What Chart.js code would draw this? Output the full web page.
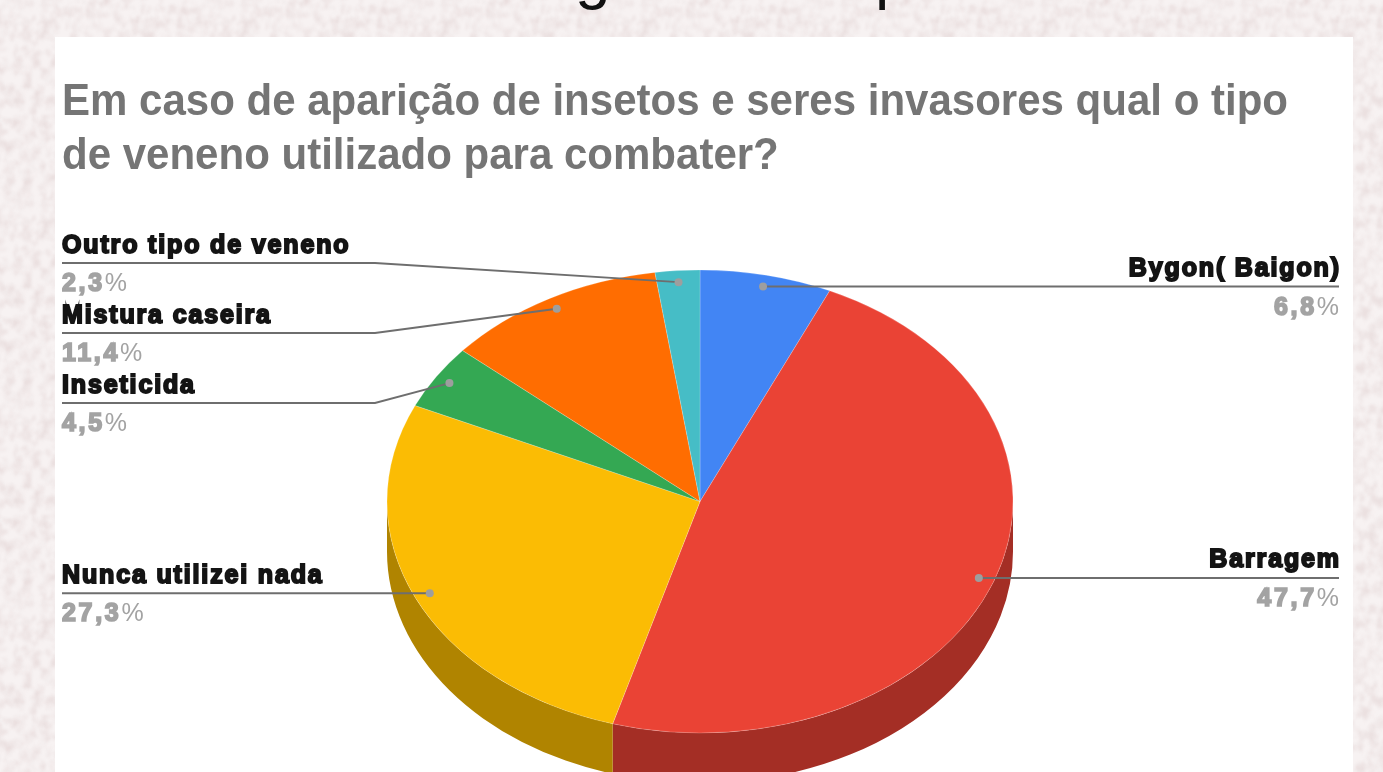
<!DOCTYPE html>
<html lang="pt">
<head>
<meta charset="utf-8">
<title>Veneno utilizado</title>
<script src="https://cdn.jsdelivr.net/npm/chart.js@4"></script>
<style>
html,body{margin:0;padding:0;width:1383px;height:772px;overflow:hidden;background:#f7f2f2}
#tex{position:absolute;left:-4px;top:-4px;width:1391px;height:780px;filter:blur(1.2px);
background-image:url("data:image/svg+xml;utf8,<svg xmlns='http://www.w3.org/2000/svg' width='200' height='200'><filter id='n' x='0' y='0' width='100%25' height='100%25'><feTurbulence type='fractalNoise' baseFrequency='0.11 0.09' numOctaves='3' seed='9' stitchTiles='stitch'/><feColorMatrix values='0 0 0 0 0.72  0 0 0 0 0.6  0 0 0 0 0.6  0.8 0.8 0 0 -0.68'/></filter><rect width='200' height='200' filter='url(%23n)'/></svg>");}
#card{position:absolute;left:55px;top:37px;width:1298px;height:735px;background:#fff}
.frag{position:absolute;font:64px "Liberation Sans",sans-serif;color:#111;line-height:64px;top:-57px}
canvas{position:absolute;left:0;top:0;filter:blur(0.75px)}
</style>
</head>
<body>
<div id="tex"></div>
<div class="frag" style="left:575px">g</div>
<div class="frag" style="left:875px">p</div>
<div id="card"></div>
<canvas id="c" width="1383" height="772"></canvas>
<script>
const titleLines = ["Em caso de aparição de insetos e seres invasores qual o tipo", "de veneno utilizado para combater?"];
const categories = ["Bygon( Baigon)", "Barragem", "Nunca utilizei nada", "Inseticida", "Mistura caseira", "Outro tipo de veneno"];
const shares = [6.8, 47.7, 27.3, 4.5, 11.4, 2.3];
const shareLabels = ["6,8", "47,7", "27,3", "4,5", "11,4", "2,3"];
const topColors = ["#4285f4", "#ea4335", "#fbbc04", "#34a853", "#ff6d01", "#46bdc6"];
const sideColors = ["#2e5dab", "#a42e25", "#b08400", "#24753a", "#b34c01", "#31848b"];

// Layout of the tilted pie and its callouts (screen pixels)
const PIE = {cx: 700, cy: 501.5, rx: 313, ry: 231.5, depth: 50, dotAt: 0.95};
const CALLOUTS = [
  {side: "right", lineY: null},
  {side: "right", lineY: null},
  {side: "left",  lineY: null},
  {side: "left",  lineY: 403, elbow: 375},
  {side: "left",  lineY: 333, elbow: 375},
  {side: "left",  lineY: 263, elbow: 375}
];
const LEFT_X = 62, RIGHT_X = 1339, TITLE_WIDTH = 1226;
const NAME_SPACING = 1.85, NUM_SPACING = 2.7;

function project(el, frac, a) {
  return {x: PIE.cx + Math.cos(a) * PIE.rx * frac, y: PIE.cy + Math.sin(a) * PIE.ry * frac};
}

const titleSqueeze = {
  id: "titleSqueeze",
  beforeDraw(chart) {
    const ctx = chart.ctx, t = chart.options.plugins.title;
    ctx.save();
    ctx.font = `${t.font.weight} ${t.font.size}px ${t.font.family}`;
    const sx = TITLE_WIDTH / ctx.measureText(titleLines[0]).width;
    ctx.translate(LEFT_X, 0); ctx.scale(sx, 1); ctx.translate(-LEFT_X, 0);
  },
  beforeDatasetsDraw(chart) { chart.ctx.restore(); }
};

const tiltedPie = {
  id: "tiltedPie",
  beforeDatasetsDraw(chart) {
    const ctx = chart.ctx, arcs = chart.getDatasetMeta(0).data;
    const R = arcs[0].outerRadius;
    arcs.forEach((el, i) => {
      const a = Math.max(el.startAngle, 0), b = Math.min(el.endAngle, Math.PI);
      if (b <= a) return;
      ctx.beginPath();
      ctx.ellipse(PIE.cx, PIE.cy, PIE.rx, PIE.ry, 0, a, b);
      ctx.ellipse(PIE.cx, PIE.cy + PIE.depth, PIE.rx, PIE.ry, 0, b, a, true);
      ctx.closePath();
      ctx.fillStyle = sideColors[i];
      ctx.fill();
    });
    ctx.save();
    ctx.translate(PIE.cx, PIE.cy);
    ctx.scale(PIE.rx / R, PIE.ry / R);
    ctx.translate(-arcs[0].x, -arcs[0].y);
  },
  afterDatasetsDraw(chart) {
    const ctx = chart.ctx, arcs = chart.getDatasetMeta(0).data;
    ctx.restore();
    const nameFont = 'bold 25px "Liberation Sans", Arial, sans-serif';
    const lightFont = '25px "Liberation Sans", Arial, sans-serif';
    arcs.forEach((el, i) => {
      const c = CALLOUTS[i];
      const mid = (el.startAngle + el.endAngle) / 2;
      const dot = project(el, PIE.dotAt, mid);
      const lineY = c.lineY === null ? dot.y : c.lineY;
      const endX = c.side === "left" ? LEFT_X : RIGHT_X;
      ctx.beginPath();
      ctx.moveTo(endX, lineY);
      if (c.elbow) ctx.lineTo(c.elbow, lineY);
      ctx.lineTo(dot.x, dot.y);
      ctx.strokeStyle = "#6e6e6e";
      ctx.lineWidth = 1.9;
      ctx.stroke();
      ctx.beginPath();
      ctx.arc(dot.x, dot.y, 4, 0, Math.PI * 2);
      ctx.fillStyle = "#9e9e9e";
      ctx.fill();

      ctx.textBaseline = "alphabetic";
      ctx.textAlign = c.side === "left" ? "left" : "right";
      ctx.font = nameFont;
      ctx.letterSpacing = NAME_SPACING + "px";
      ctx.fillStyle = "#141414";
      ctx.strokeStyle = "#141414";
      ctx.lineWidth = 1.9;
      const nameX = c.side === "left" ? endX : endX + NAME_SPACING;
      ctx.strokeText(categories[i], nameX, lineY - 10.5);
      ctx.fillText(categories[i], nameX, lineY - 10.5);

      const numY = lineY + 28;
      ctx.letterSpacing = NUM_SPACING + "px";
      ctx.fillStyle = "#a3a3a3";
      ctx.strokeStyle = "#a3a3a3";
      ctx.font = lightFont;
      const pctW = ctx.measureText("%").width;
      ctx.font = nameFont;
      const numW = ctx.measureText(shareLabels[i]).width;
      const x0 = c.side === "left" ? LEFT_X : RIGHT_X + NUM_SPACING - pctW - numW;
      ctx.textAlign = "left";
      ctx.lineWidth = 1.7;
      ctx.strokeText(shareLabels[i], x0, numY);
      ctx.fillText(shareLabels[i], x0, numY);
      ctx.font = lightFont;
      ctx.fillText("%", x0 + numW, numY);
    });
    ctx.letterSpacing = "0px";
  }
};

new Chart(document.getElementById("c"), {
  type: "pie",
  data: {
    labels: categories,
    datasets: [{data: shares, backgroundColor: topColors, borderWidth: 0.6, borderColor: "rgba(255,255,255,0.35)"}]
  },
  options: {
    responsive: false,
    animation: false,
    layout: {padding: {left: LEFT_X, right: 0, top: 60, bottom: 20}},
    plugins: {
      legend: {display: false},
      tooltip: {enabled: false},
      title: {
        display: true,
        text: titleLines,
        align: "start",
        color: "#757575",
        font: {family: '"Liberation Sans", Arial, sans-serif', size: 44, weight: "bold", lineHeight: 1.227},
        padding: {top: 16, bottom: 10}
      }
    }
  },
  plugins: [titleSqueeze, tiltedPie]
});
</script>
</body>
</html>
